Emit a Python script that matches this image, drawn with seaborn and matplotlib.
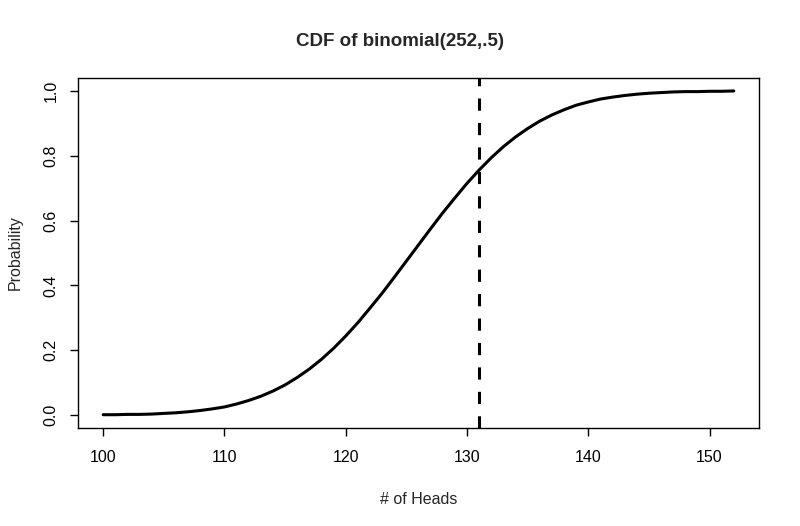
import matplotlib
matplotlib.use("Agg")
import matplotlib.pyplot as plt
import seaborn as sns
import pandas as pd

# number of heads and the CDF
heads = list(range(100, 153))
prob = [0.001, 0.001, 0.002, 0.002, 0.003, 0.005, 0.007, 0.010, 0.014, 0.019,
        0.025, 0.034, 0.045, 0.058, 0.074, 0.093, 0.116, 0.142, 0.172, 0.206,
        0.244, 0.285, 0.330, 0.376, 0.425, 0.475, 0.525, 0.575, 0.624, 0.670,
        0.715, 0.756, 0.794, 0.828, 0.858, 0.884, 0.907, 0.926, 0.942, 0.956,
        0.966, 0.975, 0.981, 0.986, 0.990, 0.993, 0.995, 0.997, 0.998, 0.998,
        0.999, 0.999, 1.000]
cutoff = 131
x_ticks = [100, 110, 120, 130, 140, 150]
y_ticks = [0.0, 0.2, 0.4, 0.6, 0.8, 1.0]

sns.set_style("ticks")
plt.rcParams['font.family'] = ['Liberation Sans', 'DejaVu Sans']

df = pd.DataFrame({'heads': heads, 'prob': prob})

fig = plt.figure(figsize=(8, 5.26), dpi=100)
ax = fig.add_axes([78 / 800, 1 - 428 / 526, (759 - 78) / 800, (428 - 78) / 526])

sns.lineplot(data=df, x='heads', y='prob', ax=ax, color='black', linewidth=2.2)
ax.axvline(cutoff, color='black', linewidth=2.2, linestyle=(0, (4, 4)))

xmin, xmax = min(heads), max(heads)
pad = (xmax - xmin) * 0.04
ax.set_xlim(xmin - pad, xmax + pad)
ax.set_ylim(-0.04, 1.04)
ax.set_xticks(x_ticks)
ax.set_yticks(y_ticks)
ax.set_xticklabels([str(t) for t in x_ticks])
ax.set_yticklabels([f"{t:.1f}" for t in y_ticks], rotation=90, va='center')
ax.tick_params(axis='x', length=6, width=1, labelsize=11.5, pad=10, colors='black')
ax.tick_params(axis='y', length=6, width=1, labelsize=11.5, pad=8, colors='black')

for s in ax.spines.values():
    s.set_visible(True)
    s.set_linewidth(1)
    s.set_color('black')

ax.set_xlabel('# of Heads', fontsize=11.5, labelpad=19)
ax.set_ylabel('Probability', fontsize=11.5, labelpad=15)
fig.text(0.5, 1 - 41 / 526, 'CDF of binomial(252,.5)', ha='center', va='center',
         fontsize=13.5, fontweight='bold')

fig.savefig('out.png', dpi=100)
